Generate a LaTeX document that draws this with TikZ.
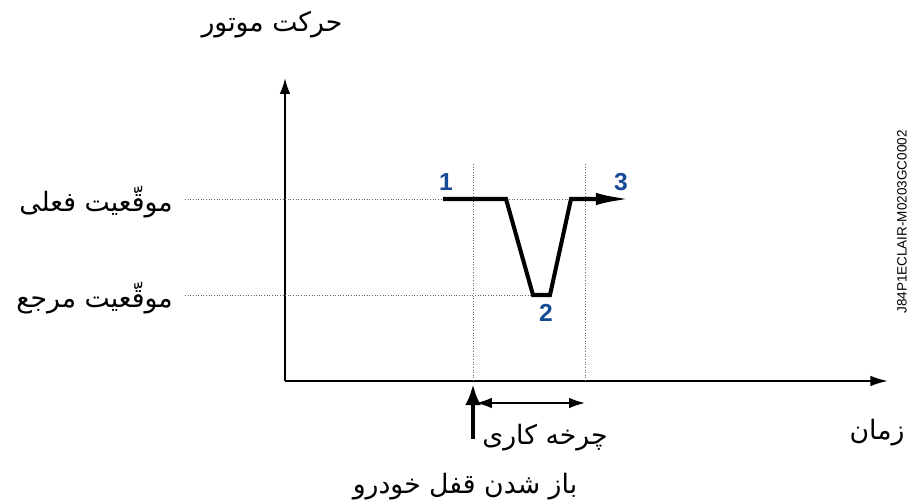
\documentclass[tikz,border=0pt]{standalone}
\usepackage{fontspec}
\usetikzlibrary{arrows.meta}
\TeXXeTstate=1
\newfontfamily\arabicfont[Script=Arabic]{DejaVu Sans}
\newfontfamily\codefont{Liberation Sans}
\definecolor{numblue}{RGB}{22,74,150}
\begin{document}
\begin{tikzpicture}[x=0.02cm,y=0.02cm,
  lbl/.style={font=\arabicfont\fontsize{15.2}{18}\selectfont, inner sep=0pt},
  num/.style={font=\codefont\bfseries\fontsize{14}{16}\selectfont, text=numblue, inner sep=0pt},
  guide/.style={draw=black!60, line width=0.5pt, densely dotted},
  axis/.style={line width=1.1pt},
  curve/.style={line width=2.3pt, line join=miter}]
\useasboundingbox (0,0) rectangle (907,504);
% axes
\coordinate (O) at (285,123);
\coordinate (ytop) at (285,426);
\coordinate (xend) at (888,123);
\draw[axis,-{Latex[length=9pt,width=6pt]}] (O) -- (ytop);
\draw[axis,-{Latex[length=10pt,width=6pt]}] (O) -- (xend);
% guide lines
\coordinate (g1l) at (185,305);
\coordinate (g1r) at (600,305);
\coordinate (g2l) at (185,209);
\coordinate (g2r) at (533,209);
\coordinate (v1t) at (473,340);
\coordinate (v1b) at (473,123);
\coordinate (v2t) at (585,340);
\coordinate (v2b) at (585,123);
\draw[guide] (g1l) -- (g1r);
\draw[guide] (g2l) -- (g2r);
\draw[guide] (v1t) -- (v1b);
\draw[guide] (v2t) -- (v2b);
% curve
\coordinate (p1) at (443,305);
\coordinate (p2) at (506,305);
\coordinate (p3) at (533,209);
\coordinate (p4) at (550,209);
\coordinate (p5) at (571,305);
\coordinate (p6) at (631,305);
\draw[curve,-{Latex[length=20pt,width=7pt]}] (p1) -- (p2) -- (p3) -- (p4) -- (p5) -- (p6);
\node[num] (n1) at (446,322) {1};
\node[num] (n2) at (546,191) {2};
\node[num] (n3) at (621,322) {3};
% labels
\node[lbl] (ymot) at (272,479) {\beginR حرکت موتور\endR};
\node[lbl, anchor=east] (cur) at (173,302) {\beginR موقّعیت فعلی\endR};
\node[lbl, anchor=east] (ref) at (173,206) {\beginR موقّعیت مرجع\endR};
\node[lbl] (time) at (877,71) {\beginR زمان\endR};
\node[lbl] (cycle) at (545,66) {\beginR چرخه کاری\endR};
\node[lbl] (unlock) at (465,17) {\beginR باز شدن قفل خودرو\endR};
% event arrows
\coordinate (e0) at (473,65);
\coordinate (e1) at (473,120);
\draw[line width=2.6pt,-{Latex[length=12pt,width=9pt]}] (e0) -- (e1);
\coordinate (c0) at (476,101);
\coordinate (c1) at (585,101);
\draw[line width=1pt,{Latex[length=9pt,width=6pt]}-{Latex[length=9pt,width=6pt]}] (c0) -- (c1);
% code
\node[font=\codefont\fontsize{7.7}{9}\selectfont, rotate=90, inner sep=0pt] (code) at (902,282) {J84P1ECLAIR-M0203GC0002};
\end{tikzpicture}
\end{document}
